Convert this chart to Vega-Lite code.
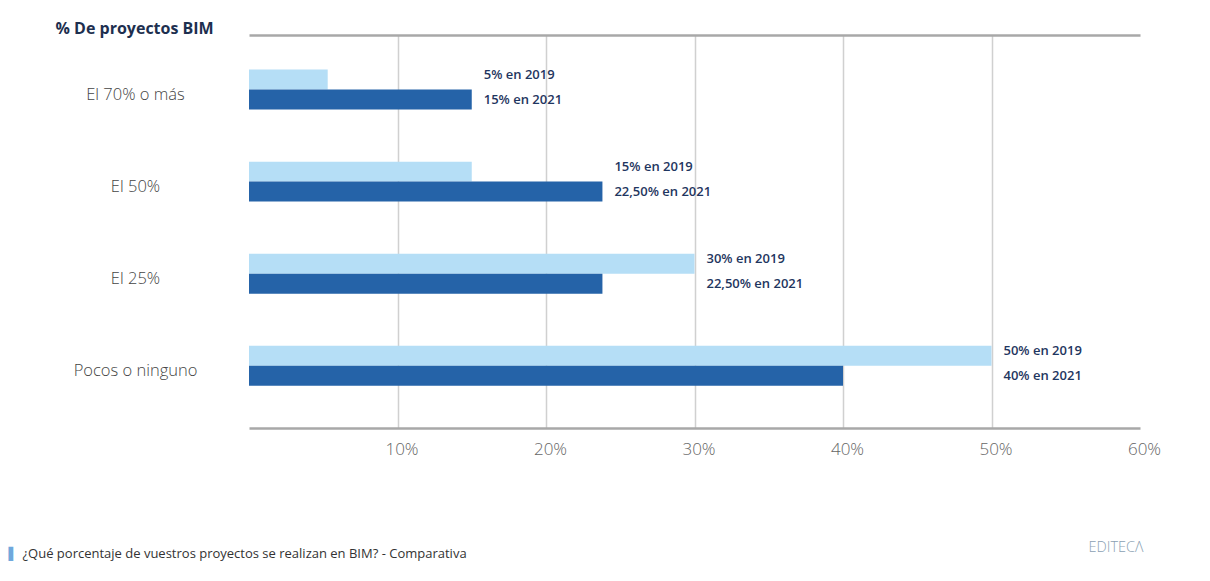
{
  "$schema": "https://vega.github.io/schema/vega-lite/v6.json",
  "width": 891,
  "height": 393,
  "autosize": {"type": "none"},
  "padding": {"left": 249, "top": 35, "right": 70, "bottom": 153},
  "background": "white",
  "config": {"view": {"stroke": null}, "font": "Open Sans"},
  "data": {"values": [
    {"category": "El 70% o más", "year": "2019", "value": 5.3, "label": "5% en 2019"},
    {"category": "El 70% o más", "year": "2021", "value": 15, "label": "15% en 2021"},
    {"category": "El 50%", "year": "2019", "value": 15, "label": "15% en 2019"},
    {"category": "El 50%", "year": "2021", "value": 23.8, "label": "22,50% en 2021"},
    {"category": "El 25%", "year": "2019", "value": 30, "label": "30% en 2019"},
    {"category": "El 25%", "year": "2021", "value": 23.8, "label": "22,50% en 2021"},
    {"category": "Pocos o ninguno", "year": "2019", "value": 50, "label": "50% en 2019"},
    {"category": "Pocos o ninguno", "year": "2021", "value": 40, "label": "40% en 2021"}
  ]},
  "layer": [
    {
      "mark": {"type": "bar"},
      "encoding": {
        "y": {
          "field": "category", "type": "nominal",
          "sort": ["El 70% o más", "El 50%", "El 25%", "Pocos o ninguno"],
          "scale": {"paddingInner": 0.566, "paddingOuter": 0.417, "align": 0.45},
          "axis": {
            "orient": "left", "domain": false, "ticks": false, "tickSize": 0, "grid": false,
            "labelAlign": "center", "labelPadding": 114, "labelOffset": 5, "labelFontSize": 16.5, "labelColor": "#444444", "labelFontWeight": 300,
            "title": "% De proyectos BIM", "titleAngle": 0, "titleX": -194, "titleY": -2,
            "titleAlign": "left", "titleBaseline": "alphabetic", "titleFontSize": 16, "titleFontWeight": "bold", "titleColor": "#1d2f4f"
          }
        },
        "yOffset": {"field": "year", "type": "nominal", "scale": {"domain": ["2019", "2021"]}},
        "x": {
          "field": "value", "type": "quantitative",
          "scale": {"domain": [0, 60]},
          "axis": {
            "orient": "bottom", "values": [10, 20, 30, 40, 50, 60], "labelExpr": "datum.value + '%'",
            "domain": true, "domainColor": "#a8a8a8", "domainWidth": 2.5, "ticks": false,
            "labelFontSize": 17, "labelColor": "#666666", "labelFontWeight": 300, "labelPadding": 13, "labelOffset": 4, "labelFlush": false,
            "grid": true, "gridColor": "#d0d0d0", "gridWidth": 1.5,
            "gridOpacity": {"condition": {"test": "datum.value >= 60", "value": 0}, "value": 1},
            "title": "¿Qué porcentaje de vuestros proyectos se realizan en BIM? - Comparativa",
            "titleX": -227, "titleY": 125, "titleAlign": "left", "titleBaseline": "middle",
            "titleFontSize": 13, "titleFontWeight": "normal", "titleColor": "#333333"
          }
        },
        "color": {"field": "year", "type": "nominal", "scale": {"domain": ["2019", "2021"], "range": ["#b5def6", "#2563a8"]}, "legend": null}
      }
    },
    {
      "transform": [
        {"joinaggregate": [{"op": "max", "field": "value", "as": "maxv"}], "groupby": ["category"]},
        {"filter": "datum.year == '2019'"}
      ],
      "mark": {"type": "text", "align": "left", "dx": 12, "dy": -5, "fontSize": 13, "fontWeight": 600, "color": "#1f3660"},
      "encoding": {
        "y": {
          "field": "category", "type": "nominal",
          "sort": ["El 70% o más", "El 50%", "El 25%", "Pocos o ninguno"],
          "axis": {
            "orient": "right", "domain": false, "labels": false, "ticks": false, "grid": false,
            "title": "▌", "titleAngle": 0, "titleX": -1132, "titleY": 518, "titleAlign": "left", "titleBaseline": "middle",
            "titleFont": "DejaVu Sans", "titleFontSize": 12, "titleFontWeight": "normal", "titleColor": "#6fa8dc"
          }
        },
        "yOffset": {"field": "year", "type": "nominal", "scale": {"domain": ["2019", "2021"]}},
        "x": {
          "field": "maxv", "type": "quantitative",
          "axis": {
            "orient": "top", "domain": true, "domainColor": "#a8a8a8", "domainWidth": 2.5, "labels": false, "ticks": false, "grid": false,
            "title": "EDITECΛ", "titleX": 839, "titleY": 512, "titleAlign": "left", "titleBaseline": "middle",
            "titleFontSize": 14.5, "titleFontWeight": 300, "titleColor": "#8a9fb3"
          }
        },
        "text": {"field": "label"}
      }
    },
    {
      "transform": [
        {"joinaggregate": [{"op": "max", "field": "value", "as": "maxv"}], "groupby": ["category"]},
        {"filter": "datum.year == '2021'"}
      ],
      "mark": {"type": "text", "align": "left", "dx": 12, "dy": 0, "fontSize": 13, "fontWeight": 600, "color": "#1f3660"},
      "encoding": {
        "y": {"field": "category", "type": "nominal", "sort": ["El 70% o más", "El 50%", "El 25%", "Pocos o ninguno"], "axis": null},
        "yOffset": {"field": "year", "type": "nominal", "scale": {"domain": ["2019", "2021"]}},
        "x": {"field": "maxv", "type": "quantitative", "axis": null},
        "text": {"field": "label"}
      }
    }
  ],
  "resolve": {"axis": {"x": "independent", "y": "independent"}}
}
